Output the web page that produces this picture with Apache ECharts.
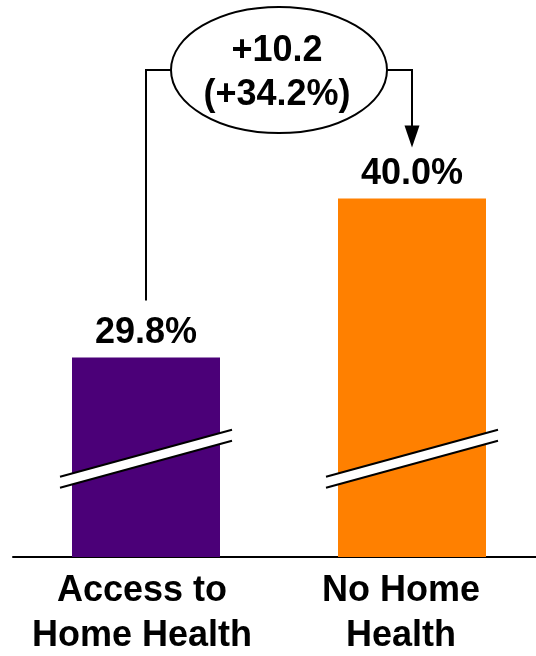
<!DOCTYPE html>
<html><head><meta charset="utf-8">
<script src="https://cdn.jsdelivr.net/npm/echarts@6/dist/echarts.min.js"></script>
<style>html,body{margin:0;padding:0;background:#fff}#c{width:536px;height:656px}</style>
</head><body><div id="c"></div>
<script>
const categories = ['Access to\nHome Health', 'No Home\nHealth'];
const values = [29.8, 40.0];
const barColors = ['#4B0078', '#FF8000'];
const yMin = 17, yMax = 50;
const breakValue = 23.3;
const font = '"Liberation Sans", Arial, sans-serif';

const diff = values[1] - values[0];
const pct = diff / values[0] * 100;
const annText = '+' + diff.toFixed(1) + '\n(+' + pct.toFixed(1) + '%)';

const chart = echarts.init(document.getElementById('c'), null, {renderer: 'canvas'});
const barWidth = 148;
chart.setOption({
  animation: false,
  grid: {left: 13, width: 532, top: 42.6, bottom: 99, containLabel: false, outerBoundsMode: 'none'},
  xAxis: {
    type: 'category',
    data: categories.map((c, i) => ({value: c, textStyle: {padding: [0, i === 0 ? 8 : 22, 0, 0]}})),
    axisLine: {lineStyle: {color: '#000', width: 2}},
    axisTick: {show: false},
    axisLabel: {color: '#000', fontFamily: font, fontWeight: 'bold', fontSize: 36, lineHeight: 45, margin: 12, interval: 0}
  },
  yAxis: {type: 'value', min: yMin, max: yMax, show: false, splitLine: {show: false}},
  series: [{
    type: 'bar',
    data: values.map((v, i) => ({value: v, itemStyle: {color: barColors[i]}})),
    barWidth: barWidth,
    label: {show: true, position: 'top', distance: 6, formatter: p => p.value.toFixed(1) + '%',
      color: '#000', fontFamily: font, fontWeight: 'bold', fontSize: 36}
  }]
});

const p0 = chart.convertToPixel({seriesIndex: 0}, [0, values[0]]);
const p1 = chart.convertToPixel({seriesIndex: 0}, [1, values[1]]);
const graphics = [];
// break marks
[0, 1].forEach(i => {
  const c = chart.convertToPixel({seriesIndex: 0}, [i, breakValue]);
  const cx = c[0], yc = c[1];
  const hl = 86, dy = 23.5, t = 5.5;
  graphics.push({type: 'polygon', z: 100, shape: {points: [[cx - hl, yc + dy - t], [cx + hl, yc - dy - t], [cx + hl, yc - dy + t], [cx - hl, yc + dy + t]]}, style: {fill: '#fff'}});
  graphics.push({type: 'line', z: 101, shape: {x1: cx - hl, y1: yc + dy - t, x2: cx + hl, y2: yc - dy - t}, style: {stroke: '#000', lineWidth: 2}});
  graphics.push({type: 'line', z: 101, shape: {x1: cx - hl, y1: yc + dy + t, x2: cx + hl, y2: yc - dy + t}, style: {stroke: '#000', lineWidth: 2}});
});
// annotation
const ecx = (p0[0] + p1[0]) / 2, ecy = 70, rx = 108, ry = 63;
graphics.push({type: 'polyline', z: 100, shape: {points: [[p0[0], p0[1] - 57], [p0[0], ecy], [ecx - rx, ecy]]}, style: {stroke: '#000', lineWidth: 2, fill: null}});
graphics.push({type: 'polyline', z: 100, shape: {points: [[ecx + rx, ecy], [p1[0], ecy], [p1[0], p1[1] - 72]]}, style: {stroke: '#000', lineWidth: 2, fill: null}});
graphics.push({type: 'polygon', z: 100, shape: {points: [[p1[0] - 7.5, p1[1] - 73], [p1[0] + 7.5, p1[1] - 73], [p1[0], p1[1] - 51]]}, style: {fill: '#000'}});
graphics.push({type: 'ellipse', z: 101, shape: {cx: ecx, cy: ecy, rx: rx, ry: ry}, style: {fill: '#fff', stroke: '#000', lineWidth: 2}});
graphics.push({type: 'text', z: 102, x: ecx - 2, y: 73, style: {text: annText, fill: '#000', font: 'bold 36px ' + font, lineHeight: 44, align: 'center', verticalAlign: 'middle'}});
chart.setOption({graphic: graphics});
</script>
</body></html>
